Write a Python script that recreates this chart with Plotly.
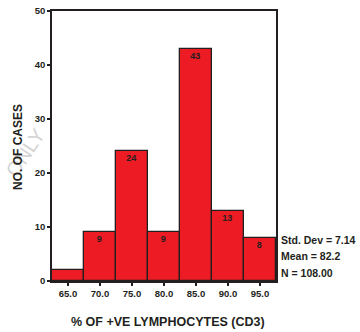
import plotly.graph_objects as go

# Histogram of % CD3+ lymphocytes, 5-point bins
bin_centers = [65.0, 70.0, 75.0, 80.0, 85.0, 90.0, 95.0]
case_counts = [2, 9, 24, 9, 43, 13, 8]
tick_labels = ["65.0", "70.0", "75.0", "80.0", "85.0", "90.0", "95.0"]
stats_lines = ["Std. Dev = 7.14", "Mean = 82.2", "N = 108.00"]

BIN_WIDTH = 5.0
FONT = "Liberation Sans, Arial, sans-serif"
INK = "#231F20"

# label bars that are tall enough to hold their count
bar_text = [str(c) if c >= 5 else "" for c in case_counts]

fig = go.Figure(
    go.Bar(
        x=bin_centers,
        y=case_counts,
        width=[BIN_WIDTH] * len(bin_centers),
        marker=dict(color="#ED1C24", line=dict(color=INK, width=1.3)),
        text=bar_text,
        textposition="inside",
        insidetextanchor="end",
        constraintext="none",
        textfont=dict(family=FONT, size=9, color=INK, weight="bold"),
        hoverinfo="skip",
    )
)

fig.update_layout(
    width=360,
    height=332,
    margin=dict(l=52, r=84, t=11, b=51),
    paper_bgcolor="white",
    plot_bgcolor="white",
    showlegend=False,
    bargap=0,
    font=dict(family=FONT, color=INK),
)

axis_common = dict(
    tickfont=dict(family=FONT, size=9.5, weight="bold", color=INK),
    ticks="outside",
    ticklen=3,
    tickwidth=1.5,
    tickcolor=INK,
    showline=True,
    linecolor=INK,
    linewidth=1.5,
    mirror=True,
    showgrid=False,
    zeroline=False,
    automargin=False,
)

fig.update_xaxes(
    range=[62.5, 97.5],
    tickmode="array",
    tickvals=bin_centers,
    ticktext=tick_labels,
    **axis_common,
)

fig.update_yaxes(
    range=[0, 50],
    tickvals=[0, 10, 20, 30, 40, 50],
    **axis_common,
)

# faint diagonal watermark at the left edge (drawn first so titles sit on top)
fig.add_annotation(
    text="ONLY",
    xref="paper",
    yref="paper",
    x=-0.12,
    y=0.474,
    xanchor="center",
    yanchor="middle",
    showarrow=False,
    textangle=-56,
    font=dict(family=FONT, size=20, color="#D4D4D4"),
)

# axis titles
fig.add_annotation(
    text="% OF +VE LYMPHOCYTES (CD3)",
    xref="paper", yref="paper",
    x=0.52, y=-0.152,
    xanchor="center", yanchor="middle",
    showarrow=False,
    font=dict(family=FONT, size=12.5, weight="bold", color=INK),
)
fig.add_annotation(
    text="NO. OF CASES",
    xref="paper", yref="paper",
    x=-0.152, y=0.496,
    xanchor="center", yanchor="middle",
    textangle=-90,
    showarrow=False,
    font=dict(family=FONT, size=12, weight="bold", color=INK),
)

# summary statistics beside the last bar
for i, line in enumerate(stats_lines):
    fig.add_annotation(
        text=line,
        xref="paper",
        yref="y",
        x=1.012,
        y=7.6 - i * 3.05,
        xanchor="left",
        yanchor="middle",
        showarrow=False,
        font=dict(family=FONT, size=10.5, weight="bold", color=INK),
    )

fig.write_html("out.html")
